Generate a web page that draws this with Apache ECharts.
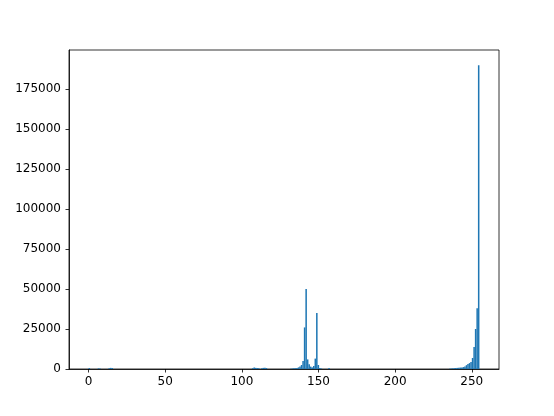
<!DOCTYPE html>
<html><head><meta charset="utf-8">
<script src="https://cdn.jsdelivr.net/npm/echarts@6/dist/echarts.min.js"></script>
<style>html,body{margin:0;padding:0;background:#fff}#c{width:554px;height:416px}</style>
</head><body><div id="c"></div>
<script>
// Histogram counts for pixel values 0..255 (256 bins over [0,255])
const counts = [
  600,0,0,0,0,0,400,300,0,0,0,0,0,500,700,600,
  0,0,0,0,0,0,0,0,0,0,0,0,0,0,0,0,
  0,0,0,0,0,0,0,0,0,0,0,0,0,0,0,0,
  0,0,0,0,0,0,0,0,0,0,0,0,0,0,0,0,
  0,0,0,0,0,0,0,0,0,0,0,0,0,0,0,0,
  0,0,0,0,0,0,0,0,0,0,0,0,0,0,0,0,
  0,0,0,0,0,0,0,0,0,0,0,500,900,700,600,500,
  0,400,700,800,600,0,0,0,0,0,0,0,0,0,0,0,
  0,0,0,0,200,300,400,500,700,1000,1500,2500,5000,26000,50000,6000,
  3000,1500,1000,1800,6500,35000,2500,700,300,0,0,0,0,700,0,0,
  0,0,0,0,0,0,0,0,0,0,0,0,0,0,0,0,
  0,0,0,0,0,0,0,0,0,0,0,0,0,0,0,0,
  0,0,0,0,0,0,0,0,0,0,0,0,0,0,0,0,
  0,0,0,0,0,0,0,0,0,0,0,0,0,0,0,0,
  0,0,0,0,0,0,0,0,0,0,0,0,200,300,400,500,
  600,700,800,900,1000,1200,1600,2400,3100,3700,4400,6900,13700,25000,38000,190000
];
const dataMin = 0, dataMax = 255;
const xTicks = [0, 50, 100, 150, 200, 250];
const yTicks = [0, 25000, 50000, 75000, 100000, 125000, 150000, 175000];

const nBins = counts.length;
const binW = (dataMax - dataMin) / nBins;
const bins = counts.map((c, i) => [dataMin + i * binW, dataMin + (i + 1) * binW, c]);
const xPad = (dataMax - dataMin) * 0.05;
const yMax = Math.max(...counts) * 1.05;

const chart = echarts.init(document.getElementById('c'), null, {renderer: 'canvas'});
const font = 'DejaVu Sans';
chart.setOption({
  animation: false,
  grid: {left: 69, right: 55, top: 50, bottom: 47, show: true, borderColor: '#000', borderWidth: 0.8, backgroundColor: 'transparent'},
  xAxis: {
    type: 'value', min: dataMin - xPad, max: dataMax + xPad,
    splitLine: {show: false},
    axisLine: {show: true, onZero: false, lineStyle: {color: '#000', width: 0.8}},
    axisTick: {show: true, inside: false, length: 3.5, lineStyle: {color: '#000', width: 0.8}, customValues: xTicks},
    axisLabel: {customValues: xTicks, color: '#000', fontFamily: font, fontSize: 12, margin: 7, formatter: v => String(v)}
  },
  yAxis: {
    type: 'value', min: 0, max: yMax,
    splitLine: {show: false},
    axisLine: {show: true, onZero: false, lineStyle: {color: '#000', width: 0.8}},
    axisTick: {show: true, inside: false, length: 3.5, lineStyle: {color: '#000', width: 0.8}, customValues: yTicks},
    axisLabel: {customValues: yTicks, color: '#000', fontFamily: font, fontSize: 12, margin: 8, formatter: v => String(v)}
  },
  series: [{
    type: 'custom',
    data: bins,
    encode: {x: [0, 1], y: 2},
    renderItem: function (params, api) {
      const v = api.value(2);
      if (!v) return null;
      const p0 = api.coord([api.value(0), 0]);
      const p1 = api.coord([api.value(1), v]);
      return {
        type: 'rect',
        shape: {x: p0[0], y: p1[1], width: p1[0] - p0[0], height: p0[1] - p1[1]},
        style: {fill: '#1f77b4'}
      };
    }
  }]
});
</script></body></html>
